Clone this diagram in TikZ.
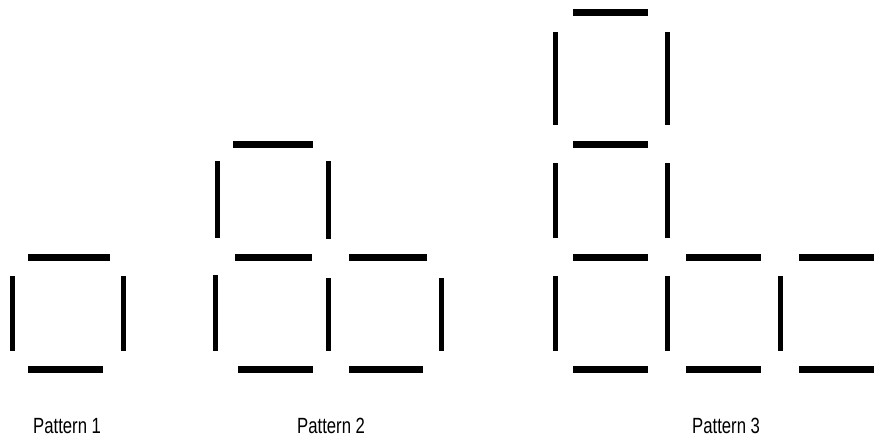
\documentclass[tikz,border=0pt]{standalone}
\usepackage{fontspec}
\newfontfamily\lblfont[FakeStretch=0.76]{Liberation Sans}
\begin{document}
\begin{tikzpicture}[x=1pt,y=-1pt,
  hseg/.style={line width=7pt,black},
  vseg/.style={line width=5pt,black},
  lbl/.style={anchor=base west,inner sep=0pt,font=\lblfont\fontsize{22}{26}\selectfont}]
\useasboundingbox (0,0) rectangle (887,439);
% Pattern 1
\draw[hseg] (28,257) -- (110,257);
\draw[hseg] (28,369) -- (103,369);
\draw[vseg] (12,276) -- (12,351);
\draw[vseg] (123,276) -- (123,351);
% Pattern 2
\draw[hseg] (233,144) -- (313,144);
\draw[vseg] (217,161) -- (217,238);
\draw[vseg] (328,161) -- (328,239);
\draw[hseg] (235,257) -- (312,257);
\draw[hseg] (349,257) -- (427,257);
\draw[vseg] (215,275) -- (215,351);
\draw[vseg] (328,278) -- (328,351);
\draw[vseg] (441,278) -- (441,351);
\draw[hseg] (238,369) -- (313,369);
\draw[hseg] (349,369) -- (423,369);
% Pattern 3
\draw[hseg] (573,12) -- (648,12);
\draw[vseg] (555,32) -- (555,125);
\draw[vseg] (667,32) -- (667,125);
\draw[hseg] (573,144) -- (648,144);
\draw[vseg] (555,163) -- (555,238);
\draw[vseg] (667,163) -- (667,238);
\draw[hseg] (573,257) -- (648,257);
\draw[hseg] (686,257) -- (761,257);
\draw[hseg] (799,257) -- (874,257);
\draw[vseg] (555,276) -- (555,351);
\draw[vseg] (667,276) -- (667,351);
\draw[vseg] (780,276) -- (780,351);
\draw[hseg] (573,369) -- (648,369);
\draw[hseg] (686,369) -- (761,369);
\draw[hseg] (799,369) -- (874,369);
% Labels
\node[lbl] (l1) at (33,433) {Pattern 1};
\node[lbl] (l2) at (297,433) {Pattern 2};
\node[lbl] (l3) at (692,433) {Pattern 3};
\end{tikzpicture}
\end{document}
